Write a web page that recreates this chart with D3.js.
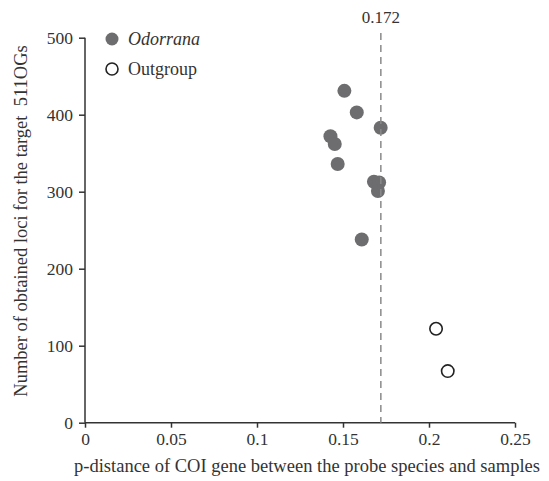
<!DOCTYPE html>
<html>
<head>
<meta charset="utf-8">
<script src="https://cdn.jsdelivr.net/npm/d3@7"></script>
<style>
  body { margin: 0; background: #fff; }
  svg { display: block; }
</style>
</head>
<body>
<div id="chart"></div>
<script>
// Data
const odorranaX = [0.1508, 0.158, 0.1719, 0.1427, 0.1452, 0.1469, 0.168, 0.171, 0.1703, 0.1609];
const odorranaY = [431, 403, 383, 372, 362, 336, 313, 312, 301, 238];
const outgroupX = [0.2041, 0.2109];
const outgroupY = [122, 67];
const xTicks = [0, 0.05, 0.1, 0.15, 0.2, 0.25];
const yTicks = [0, 100, 200, 300, 400, 500];
const threshold = 0.172;

const width = 549;
const height = 481;
const font = '"Liberation Serif", "Times New Roman", serif';
const ink = '#333';

const svg = d3.select('#chart')
    .append('svg')
    .attr('width', width)
    .attr('height', height);

const x = d3.scaleLinear().domain([0, 0.25]).range([85, 515]);
const y = d3.scaleLinear().domain([0, 500]).range([422.7, 37.7]);

// Axes
const xAxis = svg.append('g')
    .attr('transform', `translate(0,${y(0)})`)
    .call(d3.axisBottom(x).tickValues(xTicks).tickFormat(d => d === 0 ? '0' : String(d)).tickSize(5).tickPadding(5));

const yAxis = svg.append('g')
    .attr('transform', `translate(${x(0)},0)`)
    .call(d3.axisLeft(y).tickValues(yTicks).tickSize(6).tickPadding(6));

[xAxis, yAxis].forEach(g => {
    g.attr('font-family', font).attr('font-size', '17.5px');
    g.select('.domain').attr('stroke', ink).attr('stroke-width', 1.5);
    g.selectAll('.tick line').attr('stroke', ink).attr('stroke-width', 1.5);
    g.selectAll('.tick text').attr('fill', ink);
});
// drop the tick-end hooks so the domain is a plain line
xAxis.select('.domain').attr('d', `M${x(0)},0H${x(0.25)}`);
yAxis.select('.domain').attr('d', `M0,${y(500)}V${y(0)}`);

// Odorrana points
svg.append('g')
    .selectAll('circle')
    .data(odorranaX.map((d, i) => [d, odorranaY[i]]))
    .join('circle')
    .attr('cx', d => x(d[0]))
    .attr('cy', d => y(d[1]))
    .attr('r', 7)
    .attr('fill', '#6d6d6f');

// Outgroup points
svg.append('g')
    .selectAll('circle')
    .data(outgroupX.map((d, i) => [d, outgroupY[i]]))
    .join('circle')
    .attr('cx', d => x(d[0]))
    .attr('cy', d => y(d[1]))
    .attr('r', 6.2)
    .attr('fill', 'white')
    .attr('stroke', '#222')
    .attr('stroke-width', 1.6);

// Threshold line
svg.append('line')
    .attr('x1', x(threshold))
    .attr('x2', x(threshold))
    .attr('y1', 33)
    .attr('y2', y(0))
    .attr('stroke', '#8a8a8a')
    .attr('stroke-width', 1.5)
    .attr('stroke-dasharray', '7,5');

svg.append('text')
    .attr('x', x(threshold))
    .attr('y', 23)
    .attr('text-anchor', 'middle')
    .attr('font-family', font)
    .attr('font-size', '17px')
    .attr('fill', ink)
    .text(String(threshold));

// Legend
svg.append('circle')
    .attr('cx', 112).attr('cy', 39).attr('r', 6.5)
    .attr('fill', '#6d6d6f');
svg.append('text')
    .attr('x', 128).attr('y', 45)
    .attr('font-family', font).attr('font-size', '18px')
    .attr('font-style', 'italic').attr('fill', ink)
    .text('Odorrana');
svg.append('circle')
    .attr('cx', 112).attr('cy', 69).attr('r', 6)
    .attr('fill', 'white').attr('stroke', '#222').attr('stroke-width', 1.6);
svg.append('text')
    .attr('x', 128).attr('y', 75)
    .attr('font-family', font).attr('font-size', '18px')
    .attr('fill', ink)
    .text('Outgroup');

// Axis titles
svg.append('text')
    .attr('x', 307)
    .attr('y', 472)
    .attr('text-anchor', 'middle')
    .attr('font-family', font)
    .attr('font-size', '18.5px')
    .attr('fill', ink)
    .text('p-distance of COI gene between the probe species and samples');

svg.append('text')
    .attr('transform', 'translate(27,221) rotate(-90)')
    .attr('text-anchor', 'middle')
    .attr('font-family', font)
    .attr('font-size', '18.5px')
    .attr('fill', ink)
    .style('white-space', 'pre')
    .text('Number of obtained loci for the target  511OGs');
</script>
</body>
</html>
